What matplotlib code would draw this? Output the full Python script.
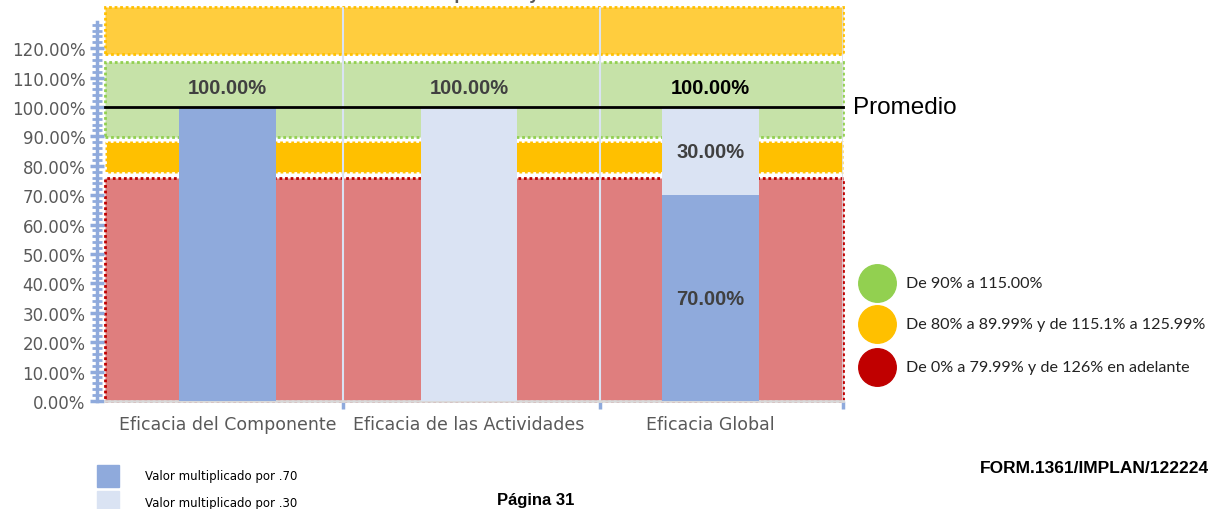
import numpy as np
import matplotlib
matplotlib.use("Agg")
import matplotlib.pyplot as plt
from matplotlib.patches import Rectangle
from matplotlib.lines import Line2D

# data
categorias = ["Eficacia del Componente", "Eficacia de las Actividades", "Eficacia Global"]
valor_70 = [100.0, 0.0, 70.0]     # parte oscura (valor x .70)
valor_30 = [0.0, 100.0, 30.0]     # parte clara (valor x .30)
totales = [100.0, 100.0, 100.0]
promedio = 100.0

# semaforo de fondo
banda_inicio = [0.0, 77.5, 89.8, 118.0]
banda_fin = [76.0, 88.5, 115.3, 134.0]
banda_color = ["#df7e7e", "#ffc000", "#c6e2a8", "#ffcd3e"]
banda_borde = ["#c00000", "#ffffff", "#92d050", "#ffc000"]

leyenda_txt = ["De 90% a 115.00%",
               "De 80% a 89.99% y de 115.1% a 125.99%",
               "De 0% a 79.99% y de 126% en adelante"]
leyenda_col = ["#92d050", "#ffc000", "#c00000"]

OSCURO = "#8faadc"
CLARO = "#dae3f3"
GRIS = "#595959"
ARIAL = "Liberation Sans"

fig = plt.figure(figsize=(12.15, 5.1), dpi=100)
ax = fig.add_axes([105/1215, 108/510, 738/1215, 394/510])

x = np.arange(len(categorias))
x0, x1 = -0.507, 2.549
ax.set_xlim(x0, x1)
ax.set_ylim(0, 134)

for lo, hi, fc, ec in zip(banda_inicio, banda_fin, banda_color, banda_borde):
    ax.add_patch(Rectangle((x0, lo), x1 - x0, hi - lo, facecolor=fc, edgecolor=ec,
                           linewidth=2, linestyle=(0, (1, 1)), zorder=1, clip_on=False))

# separadores de categoria
separadores = [0.478, 1.542, 2.549]
for s in separadores[:2]:
    ax.axvline(s, color=CLARO, lw=1.5, zorder=2)
ax.axvline(separadores[2], color="#d9dde6", lw=1.2, zorder=2)

w = 0.40
ax.bar(x, valor_70, w, color=OSCURO, zorder=3)
ax.bar(x, valor_30, w, bottom=valor_70, color=CLARO, zorder=3)

ax.plot([x0, x1], [promedio, promedio], color="black", lw=2, zorder=4, clip_on=False)

# etiquetas
etq_col = ["#404040", "#404040", "black"]
for i, t in enumerate(totales):
    ax.text(x[i], t + 3.5, f"{t:.2f}%", ha="center", va="bottom", fontsize=14.5,
            fontweight="bold", color=etq_col[i], family=ARIAL, zorder=5)
ax.text(x[2], valor_70[2] + valor_30[2] / 2, f"{valor_30[2]:.2f}%", ha="center", va="center",
        fontsize=14.5, fontweight="bold", color="#404040", family=ARIAL, zorder=5)
ax.text(x[2], valor_70[2] / 2, f"{valor_70[2]:.2f}%", ha="center", va="center",
        fontsize=14.5, fontweight="bold", color="#404040", family=ARIAL, zorder=5)

# ejes
for sp in ["top", "right"]:
    ax.spines[sp].set_visible(False)
ax.spines["left"].set_position(("outward", 6))
ax.spines["left"].set_color(OSCURO)
ax.spines["left"].set_linewidth(2.5)
ax.spines["left"].set_bounds(0, 129)
ax.spines["bottom"].set_color("#d9d9d9")
ax.spines["bottom"].set_linewidth(2)

ax.set_yticks(np.arange(0, 121, 10))
ax.set_yticks(np.arange(0, 129, 2), minor=True)
ax.set_yticklabels([f"{v:.2f}%" for v in np.arange(0, 121, 10)])
ax.tick_params(axis="y", which="major", direction="inout", length=10, width=2.5,
               color=OSCURO, labelcolor=GRIS, labelsize=12, pad=3)
ax.tick_params(axis="y", which="minor", direction="inout", length=7, width=2, color=OSCURO)

ax.set_xticks(separadores)
ax.set_xticklabels([])
ax.set_xticks(x, minor=True)
ax.set_xticklabels(categorias, minor=True)
ax.tick_params(axis="x", which="major", direction="out", length=6, width=2.5, color=OSCURO)
ax.tick_params(axis="x", which="minor", length=0, labelsize=12.5, labelcolor=GRIS, pad=10)

ax.text(x1 + 0.04, promedio, "Promedio", fontsize=17.5, va="center", ha="left",
        family=ARIAL, color="black")

fig.text(470/1215, 1.002, "Promedio del Componente y Actividades", ha="center", va="baseline",
         fontsize=13, fontweight="bold", color=GRIS, family=ARIAL)

# leyenda semaforo
for yy, txt, col in zip([284, 325, 368], leyenda_txt, leyenda_col):
    fig.add_artist(Line2D([877/1215], [1 - yy/510], marker="o", markersize=27,
                          color=col, transform=fig.transFigure))
    fig.text(906/1215, 1 - yy/510, txt, fontsize=11.6, va="center", ha="left",
             family="Lato", color="#222222")

# leyenda de barras
fig.add_artist(Rectangle((97/1215, 1 - 488/510), 22/1215, 22/510, color=OSCURO,
                         transform=fig.transFigure))
fig.add_artist(Rectangle((97/1215, 1 - 512/510), 22/1215, 20/510, color=CLARO,
                         transform=fig.transFigure))
fig.text(145/1215, 1 - 477/510, "Valor multiplicado por .70", fontsize=8.5, va="center")
fig.text(145/1215, 1 - 504/510, "Valor multiplicado por .30", fontsize=8.5, va="center")

fig.text(536/1215, 1 - 501/510, "Página 31", fontsize=12, fontweight="bold", ha="center",
         va="center", family=ARIAL)
fig.text(980/1215, 1 - 469/510, "FORM.1361/IMPLAN/122224", fontsize=12.5, fontweight="bold",
         ha="left", va="center", family=ARIAL)

fig.savefig("out.png", dpi=100)
